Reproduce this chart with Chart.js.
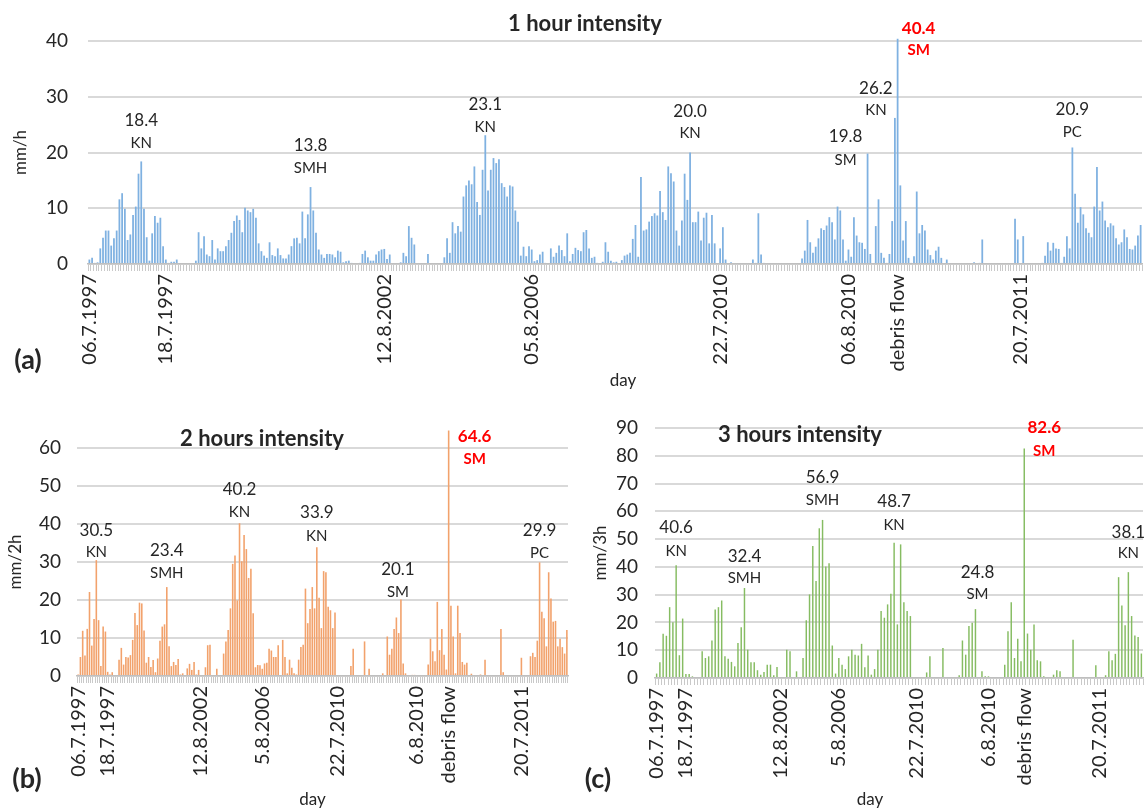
<!DOCTYPE html>
<html><head><meta charset="utf-8">
<script src="https://cdn.jsdelivr.net/npm/chart.js@4.4.1/dist/chart.umd.min.js"></script>
<style>
html,body{margin:0;padding:0;background:#fff;}
body{width:1146px;height:811px;position:relative;overflow:hidden;font-family:Lato,"Open Sans",sans-serif;color:#262626;}
.box{position:absolute;}
.t{position:absolute;transform:translate(-50%,-50%);white-space:nowrap;font-weight:bold;}
</style></head><body>
<div class="box" style="left:0;top:0"><canvas id="ca" width="1146" height="400"></canvas></div>
<div class="box" style="left:0;top:400px"><canvas id="cb" width="575" height="411"></canvas></div>
<div class="box" style="left:580px;top:400px"><canvas id="cc" width="566" height="411"></canvas></div>
<div class="t" style="left:585px;top:22px;font-size:22px">1 hour intensity</div>
<div class="t" style="left:262px;top:437px;font-size:22px">2 hours intensity</div>
<div class="t" style="left:800px;top:433px;font-size:22px">3 hours intensity</div>
<div class="t" style="left:28px;top:358px;font-size:27px">(a)</div>
<div class="t" style="left:27px;top:777px;font-size:27px">(b)</div>
<div class="t" style="left:598px;top:777px;font-size:27px">(c)</div>
<script>
// ---------- DATA ----------
const valuesA = [
0.8,1.1,0.2,0.3,2.8,4.7,6.0,6.0,3.3,4.6,6.0,11.6,12.7,9.9,4.3,5.3,8.8,10.3,16.2,18.4,9.9,4.8,0.6,5.5,8.6,7.4,8.3,3.2,0.8,0.2,0.4,0.4,0.8,
0,0,0,0,0,0,
0.6,5.7,2.8,5.0,1.7,1.4,4.3,0.8,2.8,2.3,2.3,3.2,4.3,5.6,7.7,8.7,7.9,5.7,10.1,9.6,9.3,9.9,8.3,3.7,2.3,1.5,1.1,3.9,1.6,1.4,2.8,1.6,1.0,1.0,1.7,3.2,4.6,4.7,3.7,9.4,4.6,8.9,13.8,9.6,5.6,2.6,1.7,1.1,1.8,1.8,1.7,1.2,2.4,2.2,0.3,0.5,0.6,0.2,
0,0,
0.2,1.8,2.4,1.2,0.6,0.6,1.7,2.3,2.6,2.7,0.9,1.7,
0,0,0,
0.3,2.0,1.4,6.8,4.7,3.5,
0,0,0,0,
1.8,
0,0,0,0,0,
1.2,4.6,2.0,7.5,5.5,6.8,5.8,12.1,14.1,15.0,14.3,17.5,11.1,8.8,16.9,23.1,13.2,16.9,19.0,18.1,18.8,14.5,13.8,12.1,14.1,13.9,9.6,7.6,1.5,3.1,1.4,3.2,2.6,0.5,0.7,1.7,2.2,0.2,
0,
2.8,1.3,2.0,3.3,2.5,1.4,5.5,0.5,1.8,2.9,2.5,2.3,5.7,6.1,2.8,1.1,1.3,0.2,0.2,0.4,3.9,2.2,0.6,0.3,0.4,0.2,0.7,1.5,1.7,2.0,4.5,7.0,1.3,15.6,6.0,6.2,7.6,8.6,9.1,8.7,13.1,9.3,7.9,17.5,16.3,14.8,6.0,3.3,7.8,16.2,11.5,20.0,7.5,7.5,9.4,4.2,8.3,9.2,3.7,8.8,3.7,
0,
2.8,6.6,0.8,
0,
0.3,
0,0,0,0,0,0,0,
0.8,0.2,9.1,1.7,0.2,
0,0,0,0,0,0,0,0,0,0,0,0,0,
1.0,2.4,7.9,3.9,2.0,3.1,4.6,6.4,6.1,6.9,8.4,7.5,4.4,10.3,9.6,4.4,0.6,2.6,1.3,8.4,5.1,3.9,3.8,2.7,19.8,1.8,0.2,6.8,11.6,2.0,1.1,0.2,1.8,7.7,26.2,40.4,14.1,4.2,7.7,1.1,0.2,1.4,13.0,5.5,7.0,6.0,2.6,1.6,0.8,2.4,3.1,1.1,
0,
0.8,
0,0,0,0,0,0,0,0,0,
0.3,0,0.2,4.4,
0,0,0,0,0,0,0,0,0,0,0,
8.1,4.4,0,5.0,
0,0,0,0,0,0,
0.2,1.5,3.9,2.4,3.8,2.8,2.7,0.2,1.3,5.0,2.8,20.9,12.6,7.4,10.2,8.9,6.4,5.6,4.8,10.3,17.4,9.6,11.2,7.8,6.6,7.3,6.9,4.6,3.5,3.9,6.2,4.8,2.7,2.6,3.3,5.1,7.0
];
const tickLabelsA = ['06.7.1997','18.7.1997','12.8.2002','05.8.2006','22.7.2010','06.8.2010','debris flow','20.7.2011'];
const tickCatA = [0, 28, 108, 162, 231, 278, 296, 341];
const peakCatA = [19, 81, 145, 220, 285, 295, 296, 360];
const peakStationA = ['KN','SMH','KN','KN','SM','KN','SM','PC'];
const debrisCatA = 296;

const valuesB = [
0.4,5.0,11.9,5.4,12.4,22.1,8.0,15.0,30.5,14.7,2.6,13.0,11.7,1.1,0.4,1.0,0,0,
4.3,7.4,3.0,5.0,4.9,5.5,9.5,16.6,13.4,19.3,19.1,12.0,3.5,5.0,2.4,4.2,1.0,4.6,9.3,13.0,13.6,23.4,7.8,2.6,3.7,2.9,4.5,0.4,0.7,0,
2.0,3.2,1.6,3.7,0.4,1.6,0,0,2.3,8.1,8.2,0,0,1.9,0,0,
5.9,9.1,12.1,17.8,29.5,31.7,19.9,40.2,30.2,37.1,33.4,25.8,28.2,16.5,
2.3,2.9,2.8,1.9,3.3,3.5,7.2,6.7,5.0,5.0,8.1,0,9.5,5.0,0.7,4.3,2.2,0.7,0.4,
4.3,7.6,8.2,23.0,13.9,17.6,23.4,17.8,33.9,20.6,12.6,27.6,27.3,18.2,17.3,12.6,16.7,
0,0,0,0,0,0,2.6,7.2,0,0,0,0,9.1,0,1.9,0,0,0,0,0,0.7,0,
10.4,5.6,7.2,12.4,15.4,11.3,20.1,3.3,0.7,0,0,0.3,0.3,0,0,0,0,0,
3.0,9.8,6.5,3.9,19.5,6.8,12.4,5.6,1.7,64.6,18.5,10.4,0.7,18.5,11.3,3.7,3.0,3.5,0,0.6,
0,0,0,0.4,0,4.3,0,0,0,0,0,0,12.4,1.0,0,0,0,0,0,0,0,4.8,0,0,0,
5.2,6.1,5.0,9.3,29.9,16.9,15.2,7.8,27.3,20.4,14.3,14.5,7.8,9.8,7.6,5.9,12.1
];
const tickLabelsB = ['06.7.1997','18.7.1997','12.8.2002','5.8.2006','22.7.2010','6.8.2010','debris flow','20.7.2011'];
const tickCatB = [0, 13, 54, 81, 114, 149, 163, 195];
const peakCatB = [8, 39, 71, 105, 142, 163, 203];
const peakStationB = ['KN','SMH','KN','KN','SM','SM','PC'];
const debrisCatB = 163;

const valuesC = [
1.6,5.7,15.9,15.2,25.5,20.1,40.6,8.2,21.4,1.4,1.4,0.6,0,0,
9.6,7.2,7.8,13.5,24.7,25.5,27.9,7.8,6.9,5.8,4.2,12.6,18.3,32.4,10.2,5.7,5.7,2.8,1.2,2.2,4.8,4.8,1.0,4.0,0,0,
10.2,9.6,0,2.4,0,7.2,20.8,30.1,47.5,34.9,53.9,56.9,40.1,41.3,11.7,1.6,7.2,4.8,3.2,7.8,10.2,8.4,8.1,12.3,3.9,8.1,1.2,3.2,10.2,
24.1,21.7,26.5,30.3,48.7,19.3,48.1,27.3,24.1,22.3,
0,0,0,0,2.0,7.8,0,0,0,10.8,0,0,0,0,
1.0,13.5,8.4,18.7,19.9,24.8,0,2.4,0.6,0.6,0,0,0,0,
4.8,16.8,27.3,7.2,14.1,6.0,82.6,16.0,10.2,19.3,6.4,6.0,0.6,0,0,1.2,2.8,2.4,0,0,0,13.8,
0,0,0,0,0,0,4.6,0,0,1.0,9.6,6.4,8.7,36.3,26.1,19.0,38.1,22.3,15.3,14.8,8.8
];
const tickLabelsC = ['06.7.1997','18.7.1997','12.8.2002','5.8.2006','22.7.2010','6.8.2010','debris flow','20.7.2011'];
const tickCatC = [0, 9, 38, 56, 80, 102, 113, 136];
const peakCatC = [6, 27, 51, 73, 98, 113, 145];
const peakStationC = ['KN','SMH','SMH','KN','SM','SM','KN'];
const debrisCatC = 113;

// ---------- STYLE (label placement: [dx px, y of number, y of station] in axis units) ----------
const labelPosA = [[0,25.8,21.7],[0,21.2,17.2],[0,28.6,24.6],[0,27.4,23.4],[-22,22.8,18.6],[-19,31.5,27.6],[21,42.3,38.3],[0,27.7,23.6]];
const labelPosB = [[0,38.2,32.5],[0,32.9,27.0],[0,49.2,43.2],[0,42.9,36.8],[-3,27.9,22.1],[26,62.9,57.1],[0,38.2,32.3]];
const labelPosC = [[0,54.1,45.5],[0,43.9,36.1],[0,72.0,64.0],[0,63.5,55.1],[2,37.9,30.1],[20,90.0,81.8],[0,52.3,44.9]];

const FONT = 'Lato, "Open Sans", sans-serif';
const TXT = '#262626';

function makeCats(n, idx, labels){
  const a = new Array(n).fill('');
  idx.forEach((k,j)=>{ a[k] = labels[j]; });
  return a;
}

const peakLabels = {
  id:'peakLabels',
  afterDatasetsDraw(chart, args, o){
    const {ctx} = chart; const x = chart.scales.x, y = chart.scales.y;
    const vals = chart.data.datasets[0].data;
    ctx.save();
    ctx.textAlign = 'center'; ctx.textBaseline = 'middle';
    o.cats.forEach((c,j)=>{
      const p = o.pos[j];
      const red = c === o.debris;
      const px = x.getPixelForValue(c) + p[0];
      ctx.fillStyle = red ? '#ff0000' : TXT;
      ctx.font = (red ? 'bold ' : '') + o.numSize + 'px ' + FONT;
      ctx.fillText(vals[c].toFixed(1), px, y.getPixelForValue(p[1]));
      ctx.font = (red ? 'bold ' : '') + o.nameSize + 'px ' + FONT;
      ctx.fillText(o.stations[j], px, y.getPixelForValue(p[2]));
    });
    // x-axis title
    ctx.fillStyle = TXT;
    ctx.font = '17px ' + FONT;
    ctx.fillText(o.xTitle, (chart.chartArea.left + chart.chartArea.right) / 2 + o.xTitleDx, chart.height - o.xTitleUp);
    ctx.restore();
  }
};

function build(id, cfg){
  const cats = makeCats(cfg.values.length, cfg.tickCat, cfg.tickLabels);
  return new Chart(document.getElementById(id), {
    type:'bar',
    data:{ labels:cats, datasets:[{ data:cfg.values, backgroundColor:cfg.color, borderWidth:0,
      barPercentage:cfg.barPct, categoryPercentage:1, clip:false }]},
    options:{
      responsive:false, animation:false, events:[],
      layout:{ padding:{ left:0, right:cfg.padRight, top:cfg.padTop, bottom:0 } },
      plugins:{ legend:{display:false}, tooltip:{enabled:false},
        peakLabels:{ cats:cfg.peakCat, stations:cfg.stations, pos:cfg.labelPos, debris:cfg.debris, numSize:17, nameSize:15,
                     xTitle:'day', xTitleDx:cfg.dayDx, xTitleUp:cfg.dayUp } },
      scales:{
        x:{
          grid:{ drawOnChartArea:false, color:'#c9c9c9', tickLength:7, lineWidth:1 },
          border:{ color:'#bfbfbf', width:1.5 },
          ticks:{ autoSkip:false, maxRotation:90, minRotation:90, padding:3, color:TXT,
                  font:{ family:FONT, size:20 }, callback:(v,i)=>cats[i] },
          afterFit:(s)=>{ s.height = cfg.xHeight; s.paddingLeft = 0; s.paddingRight = 0; }
        },
        y:{
          min:0, max:cfg.yMax,
          ticks:{ stepSize:10, color:TXT, padding:cfg.yTickPad, font:{ family:FONT, size:19 } },
          grid:{ color:'#d9d9d9', lineWidth:2, drawTicks:false },
          border:{ display:false },
          title:{ display:true, text:cfg.yTitle, color:TXT, font:{family:FONT, size:17}, padding:{top:cfg.yTitlePad,bottom:0} },
          afterFit:(s)=>{ s.width = cfg.yWidth; s.paddingTop = 0; s.paddingBottom = 0; }
        }
      }
    },
    plugins:[peakLabels]
  });
}

build('ca', { values:valuesA, tickCat:tickCatA, tickLabels:tickLabelsA, peakCat:peakCatA, stations:peakStationA,
  labelPos:labelPosA, debris:debrisCatA, color:'#7fb1e1', barPct:0.65, padRight:4, padTop:41, xHeight:136,
  dayDx:8, dayUp:19, yMax:40, yTickPad:20, yTitle:'mm/h', yTitlePad:10, yWidth:88 });
build('cb', { values:valuesB, tickCat:tickCatB, tickLabels:tickLabelsB, peakCat:peakCatB, stations:peakStationB,
  labelPos:labelPosB, debris:debrisCatB, color:'#f2a26c', barPct:0.7, padRight:7, padTop:48, xHeight:135,
  dayDx:-10, dayUp:11, yMax:60, yTickPad:16, yTitle:'mm/2h', yTitlePad:5, yWidth:77 });
build('cc', { values:valuesC, tickCat:tickCatC, tickLabels:tickLabelsC, peakCat:peakCatC, stations:peakStationC,
  labelPos:labelPosC, debris:debrisCatC, color:'#86bc62', barPct:0.45, padRight:3, padTop:28, xHeight:133,
  dayDx:-29, dayUp:11, yMax:90, yTickPad:17, yTitle:'mm/3h', yTitlePad:10, yWidth:75 });
</script>
</body></html>
